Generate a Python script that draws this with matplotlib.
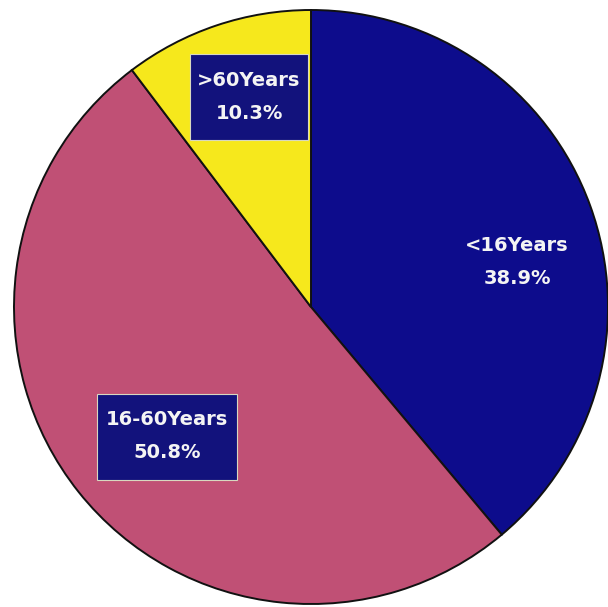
import matplotlib
matplotlib.use("Agg")
import matplotlib.pyplot as plt
from matplotlib.patches import Rectangle

# age groups, clockwise from 12 o'clock
labels = ["<16Years", "16-60Years", ">60Years"]
shares = [38.9, 50.8, 10.3]
colors = ["#0d0c8c", "#c05075", "#f6e81c"]

W, H = 608, 607
fig = plt.figure(figsize=(W / 100, H / 100), dpi=100)
ax = fig.add_axes([0, 0, 1, 1])

cx, cy, r = 311, H - 307, 297
wedges, _ = ax.pie(shares, colors=colors, startangle=90, counterclock=False,
                   center=(cx, cy), radius=r, frame=True,
                   wedgeprops=dict(edgecolor="#111111", linewidth=1.4))
ax.set_xlim(0, W)
ax.set_ylim(0, H)
ax.set_aspect("equal")
ax.axis("off")

# label placement (pixel coords from top-left) and optional dark box
label_pos = [(517, 262), (167, 436), (249, 97)]
boxes = [None, (97, 394, 140, 86), (190, 54, 118, 86)]

for lab, val, (px, py), box in zip(labels, shares, label_pos, boxes):
    if box is not None:
        bx, by, bw, bh = box
        ax.add_patch(Rectangle((bx, H - by - bh), bw, bh, facecolor="#12127c",
                               edgecolor="#d8d8c0", linewidth=0.8, zorder=3))
    ax.text(px, H - py, f"{lab}\n{val:.1f}%", ha="center", va="center",
            color="#f4f4f4", fontsize=14, fontweight="bold", family="DejaVu Sans",
            linespacing=1.95, zorder=4)

fig.savefig("out.png", dpi=100)
